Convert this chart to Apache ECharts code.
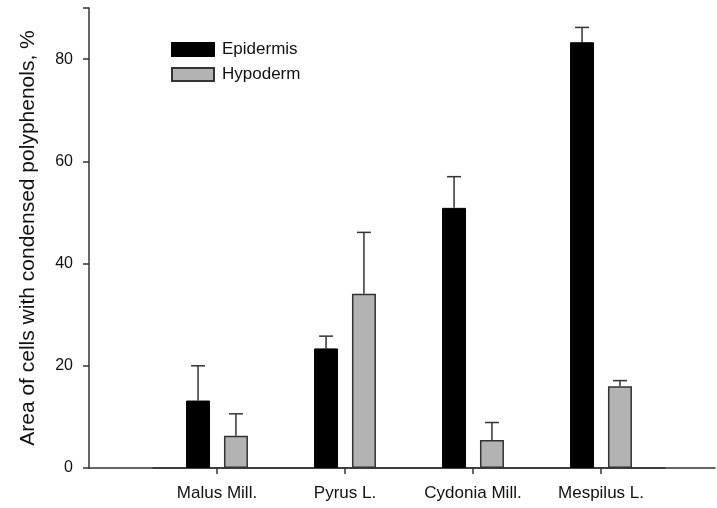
<!DOCTYPE html>
<html>
<head>
<meta charset="utf-8">
<script src="https://cdn.jsdelivr.net/npm/echarts@6/dist/echarts.min.js"></script>
<style>html,body{margin:0;padding:0;background:#fff}#c{width:717px;height:508px}</style>
</head>
<body>
<div id="c"></div>
<script>
var categories = ['Malus Mill.', 'Pyrus L.', 'Cydonia Mill.', 'Mespilus L.'];
var epidermis = [13.2, 23.4, 50.9, 83.3];
var epidermisUpper = [20.0, 25.8, 57.0, 86.2];
var hypoderm = [6.3, 34.1, 5.5, 16.0];
var hypodermUpper = [10.6, 46.1, 8.9, 17.1];
var yTicks = [0, 20, 40, 60, 80];

var FONT = 'Liberation Sans';
var chart = echarts.init(document.getElementById('c'), null, {renderer: 'canvas'});

function errSeries(name, upper, vals, side) {
  return {
    type: 'custom',
    name: name + ' err',
    xAxisIndex: 1, yAxisIndex: 1,
    silent: true,
    z: 1,
    data: vals.map(function (v, i) { return [i, v, upper[i]]; }),
    renderItem: function (params, api) {
      var band = api.size([1, 0])[0];
      var off = side * band * 0.148;
      var base = api.coord([api.value(0), api.value(1)]);
      var top = api.coord([api.value(0), api.value(2)]);
      var x = base[0] + off;
      var cap = 7;
      var st = {stroke: '#333', lineWidth: 1.5};
      return {
        type: 'group',
        children: [
          {type: 'line', shape: {x1: x, y1: base[1], x2: x, y2: top[1]}, style: st},
          {type: 'line', shape: {x1: x - cap, y1: top[1], x2: x + cap, y2: top[1]}, style: st}
        ]
      };
    }
  };
}

var option = {
  animation: false,
  backgroundColor: '#fff',
  textStyle: {fontFamily: FONT},
  grid: [
    {left: 89, right: 2, top: 8, bottom: 40},
    {left: 153, width: 512, top: 8, bottom: 40}
  ],
  legend: {
    orient: 'vertical',
    left: 166, top: 36,
    icon: 'rect',
    itemWidth: 42, itemHeight: 13, itemGap: 8,
    textStyle: {fontFamily: FONT, fontSize: 17, lineHeight: 14, color: '#111', padding: [0, 0, 0, 3]},
    data: ['Epidermis', 'Hypoderm']
  },
  xAxis: [
    {
      type: 'value', gridIndex: 0, min: 0, max: 1,
      axisLine: {show: true, lineStyle: {color: '#333', width: 1.5}},
      axisTick: {show: false}, axisLabel: {show: false}, splitLine: {show: false}
    },
    {
      type: 'category', gridIndex: 1, data: categories,
      axisLine: {show: true, lineStyle: {color: '#333', width: 1.5}},
      axisTick: {show: true, alignWithLabel: true, length: 6, lineStyle: {color: '#333', width: 1.5}},
      axisLabel: {fontFamily: FONT, fontSize: 17, color: '#111', margin: 17}
    }
  ],
  yAxis: [
    {
      type: 'value', gridIndex: 0, min: 0, max: 90, interval: 20,
      name: 'Area of cells with condensed polyphenols, %',
      nameLocation: 'middle', nameGap: 50,
      nameTextStyle: {fontFamily: FONT, fontSize: 21, color: '#111'},
      axisLine: {show: true, lineStyle: {color: '#333', width: 1.5}},
      axisTick: {show: true, length: 6, lineStyle: {color: '#333', width: 1.5}},
      axisLabel: {fontFamily: FONT, fontSize: 16, color: '#111', margin: 16,
        formatter: function (v) { return yTicks.indexOf(v) >= 0 ? String(v) : ''; }},
      splitLine: {show: false}
    },
    {
      type: 'value', gridIndex: 1, min: 0, max: 90, interval: 20,
      show: false
    }
  ],
  series: [
    {
      name: 'Epidermis', type: 'bar', xAxisIndex: 1, yAxisIndex: 1,
      data: epidermis, barWidth: 24, barGap: '58%', z: 2,
      itemStyle: {color: '#000', borderColor: '#000', borderWidth: 1}
    },
    {
      name: 'Hypoderm', type: 'bar', xAxisIndex: 1, yAxisIndex: 1,
      data: hypoderm, barWidth: 24, barGap: '58%', z: 2,
      itemStyle: {color: '#b3b3b3', borderColor: '#333', borderWidth: 1.5}
    },
    errSeries('Epidermis', epidermisUpper, epidermis, -1),
    errSeries('Hypoderm', hypodermUpper, hypoderm, 1)
  ]
};
chart.setOption(option);
</script>
</body>
</html>
